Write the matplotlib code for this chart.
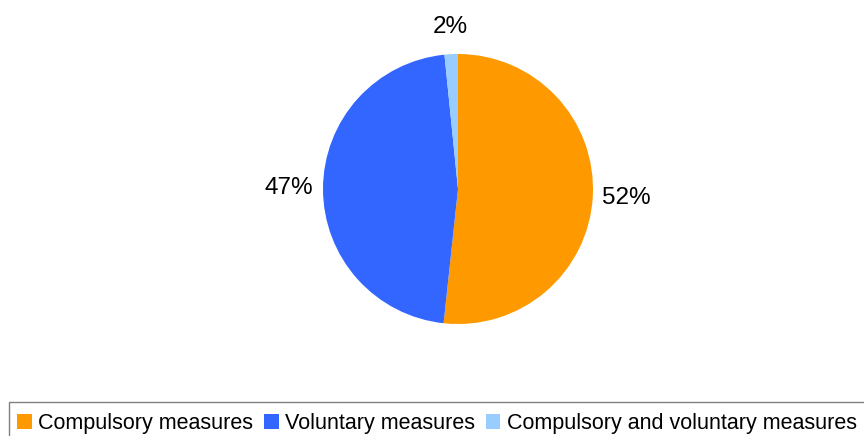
import matplotlib.pyplot as plt
from matplotlib.patches import Patch, Rectangle

plt.rcParams['font.family'] = ['Liberation Sans', 'DejaVu Sans']

categories = ['Compulsory measures', 'Voluntary measures', 'Compulsory and voluntary measures']
shares = [51.7, 46.7, 1.6]
colors = ['#FF9900', '#3366FF', '#99CCFF']

fig = plt.figure(figsize=(8.64, 4.36), dpi=100)
ax = fig.add_axes([323 / 864, 112 / 436, 270 / 864, 270 / 436])

wedges, texts, autotexts = ax.pie(shares, colors=colors, startangle=90, counterclock=False,
                                  autopct='%1.0f%%', pctdistance=1.25,
                                  textprops={'fontsize': 17.5, 'color': 'black'})
# small slice label sits a bit closer to the pie
x, y = autotexts[2].get_position()
autotexts[2].set_position((x * 1.2 / 1.25, y * 1.2 / 1.25))

ax.set_aspect('equal')
ax.set_xlim(-1, 1)
ax.set_ylim(-1, 1)

handles = [Patch(facecolor=c, edgecolor='none') for c in colors]
leg = fig.legend(handles, categories, loc='center left',
                 bbox_to_anchor=(17 / 864, 1 - 423.5 / 436),
                 ncol=3, fontsize=15.5, frameon=False,
                 handlelength=0.68, handleheight=0.68, handletextpad=0.3,
                 columnspacing=0.5, borderpad=0, borderaxespad=0)

# legend border runs off the right and bottom edges
fig.patches.append(Rectangle((9 / 864, -0.1), 1.1, (436 - 402) / 436 + 0.1,
                             transform=fig.transFigure, fill=False,
                             edgecolor='#808080', linewidth=1))

fig.savefig('out.png', dpi=100)
